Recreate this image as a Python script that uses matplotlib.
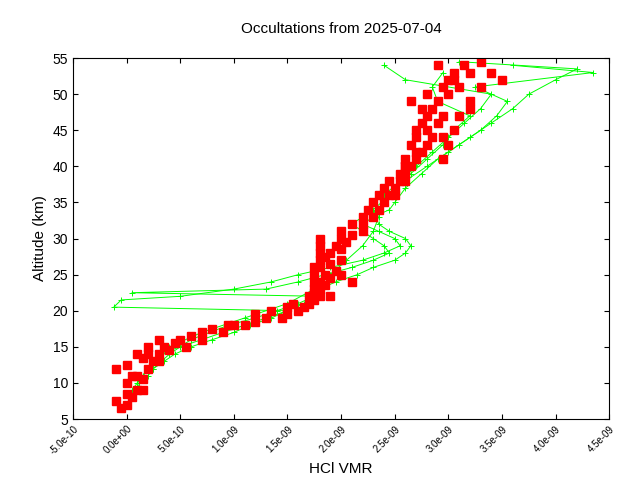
import matplotlib.pyplot as plt
from matplotlib.ticker import FuncFormatter

plt.rcParams['font.family'] = 'Liberation Sans'

# green profiles: altitude (km) and HCl VMR (units of 1e-9)
alt_a = [7, 8, 9, 10, 11, 12, 13, 14, 15, 16, 17, 18, 19, 20, 20.5, 21.5, 22, 23, 24, 25, 26, 27, 28, 29, 30, 31, 32, 33, 34, 35, 37, 39, 41, 43, 45, 47, 49, 51, 53, 54]
vmr_a = [0.0, 0.05, 0.1, 0.12, 0.2, 0.25, 0.35, 0.45, 0.6, 0.8, 1.0, 1.15, 1.35, 1.5, -0.12, -0.05, 0.5, 1.0, 1.35, 1.6, 1.9, 2.2, 2.4, 2.55, 2.5, 2.35, 2.2, 2.3, 2.45, 2.5, 2.6, 2.75, 2.9, 3.1, 3.3, 3.45, 3.55, 3.25, 4.35, 3.6]
alt_b = [10, 12, 14, 15, 16, 17, 18, 19, 20, 21, 22, 22.5, 23, 24, 25, 26, 27, 28, 29, 30, 31, 32, 33, 34, 35, 36, 38, 40, 42, 44, 46, 48, 50, 52, 54]
vmr_b = [0.1, 0.2, 0.3, 0.5, 0.7, 0.9, 1.1, 1.3, 1.5, 1.65, 1.8, 0.05, 1.3, 1.6, 1.85, 2.1, 2.3, 2.45, 2.4, 2.3, 2.2, 2.1, 2.2, 2.35, 2.3, 2.4, 2.55, 2.7, 2.85, 3.0, 3.15, 3.3, 3.4, 2.6, 2.4]
alt_c = [12, 14, 16, 18, 19, 20, 21, 22, 23, 24, 25, 26, 27, 28, 29, 30, 31, 32, 34, 36, 38, 40, 42, 44, 46, 48, 50, 52, 53.5, 54.5]
vmr_c = [0.25, 0.4, 0.6, 0.95, 1.2, 1.4, 1.6, 1.75, 1.8, 1.95, 2.15, 2.3, 2.5, 2.6, 2.65, 2.6, 2.45, 2.35, 2.3, 2.45, 2.6, 2.8, 3.0, 3.2, 3.4, 3.6, 3.75, 4.0, 4.2, 3.1]
alt_d = [9, 11, 13, 15, 17, 19, 21, 23, 25, 27, 29, 31, 33, 35, 37, 39, 41, 43, 45, 47, 49, 51, 53]
vmr_d = [0.05, 0.15, 0.3, 0.4, 0.7, 1.1, 1.5, 1.75, 1.9, 2.05, 2.2, 2.3, 2.35, 2.4, 2.5, 2.65, 2.8, 2.95, 3.05, 3.2, 2.9, 2.85, 2.95]

# red squares
red_alt = [6.5, 7, 7.5, 8, 8.5, 9, 10, 10.5, 11, 12, 12.5, 13, 13.5, 14, 14.5, 15, 15.5, 16, 16.5, 17, 17.5, 18, 18, 18.5, 19, 19, 19.5, 20, 20.5, 21, 21.5, 22, 22.5, 23, 23.5, 24, 24.5, 25, 25.5, 26, 26.5, 27, 27.5, 28, 28.5, 29, 29.5, 30, 30.5, 31, 32, 33, 34, 35, 36, 37, 38, 39, 40, 41, 42, 43, 44, 45, 46, 47, 48, 49, 50, 51, 52, 53, 54, 54.5, 30, 25, 24, 22, 16, 15, 14, 13, 12, 40, 44, 48, 52]
red_vmr = [-0.05, 0.0, -0.1, 0.05, 0.0, 0.1, 0.0, 0.15, 0.1, 0.2, 0.0, 0.3, 0.15, 0.3, 0.4, 0.35, 0.45, 0.5, 0.6, 0.7, 0.8, 0.95, 1.1, 1.2, 1.3, 1.45, 1.5, 1.6, 1.65, 1.7, 1.75, 1.8, 1.75, 1.8, 1.85, 1.8, 1.9, 1.85, 1.95, 1.8, 1.9, 2.0, 1.85, 1.9, 2.0, 1.95, 2.05, 2.0, 2.1, 2.2, 2.2, 2.3, 2.35, 2.4, 2.45, 2.5, 2.55, 2.6, 2.65, 2.7, 2.75, 2.8, 2.85, 2.8, 2.9, 2.95, 2.85, 2.9, 3.0, 3.1, 3.05, 3.2, 2.9, 3.3, 1.8, 2.0, 2.1, 1.9, 0.3, 0.2, 0.1, 0.25, -0.1, 2.6, 2.95, 3.2, 3.5]
red_alt2 = [19.5, 20, 20.5, 21, 22, 23, 24, 25, 26, 27, 28, 29, 31, 32, 33, 34, 35, 36, 37, 38, 39, 40, 41, 42, 43, 44, 45, 46, 47, 48, 49, 50, 51, 52, 53, 54, 41, 43, 45, 47, 49, 51, 53, 38, 36, 15, 16, 17, 18, 14, 11, 9]
red_vmr2 = [1.2, 1.35, 1.5, 1.55, 1.7, 1.75, 1.75, 1.75, 1.75, 1.8, 1.8, 1.8, 2.0, 2.1, 2.2, 2.25, 2.3, 2.35, 2.4, 2.45, 2.55, 2.6, 2.6, 2.7, 2.65, 2.7, 2.7, 2.75, 2.8, 2.75, 2.65, 2.8, 2.95, 3.0, 3.05, 3.15, 2.95, 3.0, 3.05, 3.1, 3.2, 3.3, 3.4, 2.6, 2.5, 0.55, 0.7, 0.9, 1.0, 0.2, 0.05, 0.15]

fig, ax = plt.subplots(figsize=(6.4, 4.8), dpi=100)
fig.subplots_adjust(left=0.114, right=0.952, top=0.879, bottom=0.127)

for alt, vmr in [(alt_a, vmr_a), (alt_b, vmr_b), (alt_c, vmr_c), (alt_d, vmr_d)]:
    ax.plot([v * 1e-9 for v in vmr], alt, color="#00ff00", lw=0.7,
            marker="+", ms=5, mew=0.7)
ax.plot([v * 1e-9 for v in red_vmr + red_vmr2], red_alt + red_alt2, ls="none",
        marker="s", ms=6, color="red")

ax.set_xlim(-5e-10, 4.5e-9)
ax.set_ylim(5, 55)
ax.set_yticks(range(5, 56, 5))
ax.set_xticks([i * 5e-10 for i in range(-1, 10)])
ax.xaxis.set_major_formatter(FuncFormatter(lambda v, p: f"{v:.1e}"))
ax.tick_params(direction="in", top=True, right=True)
ax.tick_params(axis="x", labelsize=7, labelrotation=45)
ax.tick_params(axis="y", labelsize=10)
for lab in ax.get_xticklabels():
    lab.set_ha("right")
    lab.set_rotation_mode("anchor")
ax.set_xlabel("HCl VMR", fontsize=11)
ax.set_ylabel("Altitude (km)", fontsize=11)
ax.set_title("Occultations from 2025-07-04", fontsize=11, pad=18)

plt.savefig("out.png")
